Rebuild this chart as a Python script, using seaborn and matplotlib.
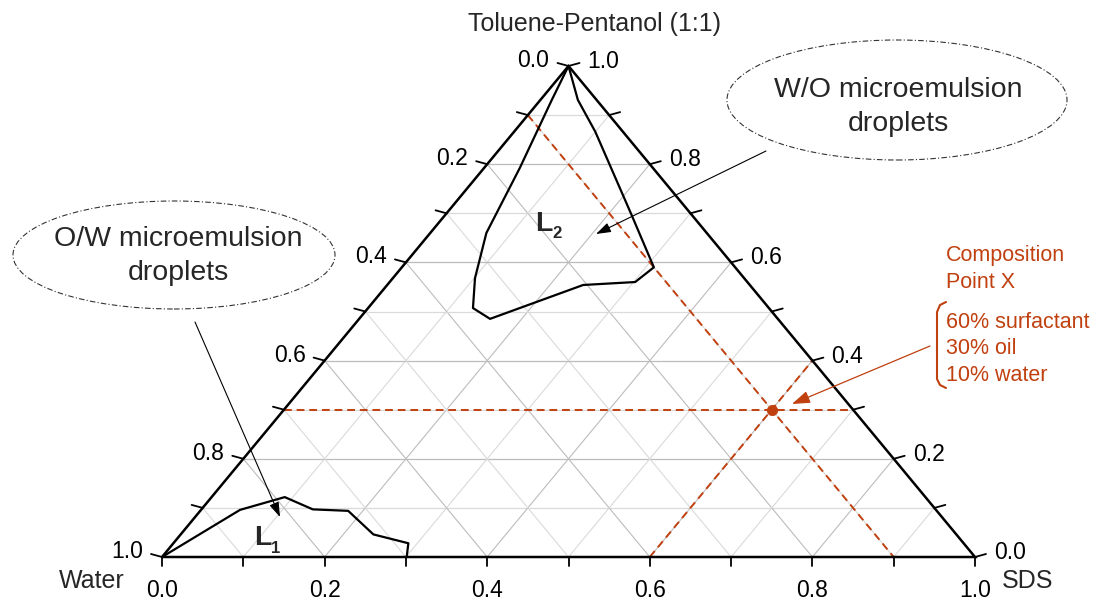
import numpy as np
import pandas as pd
import matplotlib
matplotlib.use("Agg")
import matplotlib.pyplot as plt
import seaborn as sns
from matplotlib.patches import Ellipse
from matplotlib.lines import Line2D

# ---------------- data (ternary fractions) ----------------
# L2 region boundary: SDS fraction and Toluene-Pentanol fraction
l2_sds = [0.0, 0.014, 0.044, 0.069, 0.101, 0.129, 0.161, 0.241, 0.302, 0.31, 0.229, 0.100, 0.046, 0.0]
l2_tol = [1.0, 0.931, 0.792, 0.660, 0.568, 0.507, 0.485, 0.554, 0.560, 0.59, 0.697, 0.866, 0.931, 1.0]
# L1 region boundary
l1_sds = [0.0, 0.048, 0.090, 0.137, 0.182, 0.237, 0.289, 0.301]
l1_tol = [0.0, 0.096, 0.122, 0.097, 0.094, 0.046, 0.028, 0.0]
# composition point X
x_sds, x_oil, x_water = 0.6, 0.3, 0.1
tick_fracs = [0.1, 0.2, 0.3, 0.4, 0.5, 0.6, 0.7, 0.8, 0.9]
label_fracs = [0.0, 0.2, 0.4, 0.6, 0.8, 1.0]
comp_lines = ["60% surfactant", "30% oil", "10% water"]

RED = "#C0400F"
W, H = 1099, 600
X0, Y0, XW, YH = 162, 557, 813, 491  # triangle placement in pixels

sns.set_theme(style="white")
plt.rcParams["font.family"] = ["Liberation Sans", "DejaVu Sans"]

fig = plt.figure(figsize=(W / 100, H / 100), dpi=100)
ax = fig.add_axes([X0 / W, (H - Y0) / H, XW / W, YH / H])
ax.set_xlim(0, 1)
ax.set_ylim(0, 1)
ax.axis("off")


def cart(sds, tol):
    sds = np.asarray(sds, float)
    tol = np.asarray(tol, float)
    return sds + tol / 2, tol


def fx(px):
    return px / W


def fy(py):
    return 1 - py / H


# ---------------- grid ----------------
for f in tick_fracs:
    c = "#bcbcbc" if round(f * 10) % 2 == 0 else "#dadada"
    xs, ys = cart([0, 1 - f], [f, f])          # constant toluene
    ax.plot(xs, ys, color=c, lw=0.9, zorder=1)
    xs, ys = cart([f, f], [0, 1 - f])          # constant SDS
    ax.plot(xs, ys, color=c, lw=0.8, zorder=1)
    xs, ys = cart([0, 1 - f], [1 - f, 0])      # constant water
    ax.plot(xs, ys, color=c, lw=0.8, zorder=1)

# ---------------- dashed construction lines through X ----------------
dash = dict(color=RED, lw=1.4, ls=(0, (4, 2.5)), zorder=3)
xs, ys = cart([0, 1 - x_oil], [x_oil, x_oil])
ax.plot(xs, ys, **dash)
xs, ys = cart([x_sds, x_sds], [0, 1 - x_sds])
ax.plot(xs, ys, **dash)
xs, ys = cart([0, 1 - x_water], [1 - x_water, 0])
ax.plot(xs, ys, **dash)

# ---------------- triangle outline ----------------
xs, ys = cart([0, 1, 0, 0], [0, 0, 1, 0])
ax.plot(xs, ys, color="black", lw=1.8, zorder=4, solid_joinstyle="miter", clip_on=False)

# ---------------- ticks ----------------
dxp, dyp = 1 / XW, 1 / YH
for f in [0.0] + tick_fracs + [1.0]:
    ax.plot([f, f], [0, -9 * dyp], color="black", lw=1.3, clip_on=False, zorder=4)
    ex, ey = cart(1 - f, f)
    ax.plot([ex, ex + 11 * dxp], [ey, ey + 3 * dyp], color="black", lw=1.3, clip_on=False, zorder=4)
    ex, ey = cart(0, f)
    ax.plot([ex, ex - 11 * dxp], [ey, ey + 3 * dyp], color="black", lw=1.3, clip_on=False, zorder=4)

# ---------------- region boundaries ----------------
x2, y2 = cart(l2_sds, l2_tol)
sns.lineplot(x=x2, y=y2, sort=False, estimator=None, color="black", lw=1.6, ax=ax, zorder=5)
x1, y1 = cart(l1_sds, l1_tol)
sns.lineplot(x=x1, y=y1, sort=False, estimator=None, color="black", lw=1.6, ax=ax, zorder=5)

# ---------------- point X ----------------
px_, py_ = cart([x_sds], [x_oil])
sns.scatterplot(x=px_, y=py_, color=RED, s=55, edgecolor=RED, ax=ax, zorder=6)

# ---------------- tick labels ----------------
TFS = 16.5
for f in label_fracs:
    ax.annotate(f"{f:.1f}", xy=(f, 0), xycoords="data", xytext=(0, -40), textcoords="offset pixels",
                ha="center", va="baseline", fontsize=TFS, color="black", annotation_clip=False)
    ex, ey = cart(1 - f, f)
    ax.annotate(f"{f:.1f}", xy=(ex, ey), xytext=(19, -2), textcoords="offset pixels",
                ha="left", va="baseline", fontsize=TFS, color="black", annotation_clip=False)
    ex, ey = cart(0, 1 - f)
    ax.annotate(f"{f:.1f}", xy=(ex, ey), xytext=(-19, -1), textcoords="offset pixels",
                ha="right", va="baseline", fontsize=TFS, color="black", annotation_clip=False)

# ---------------- axis titles ----------------
fig.text(fx(595), fy(31), "Toluene-Pentanol (1:1)", ha="center", va="baseline", fontsize=18)
fig.text(fx(125), fy(588), "Water", ha="right", va="baseline", fontsize=18)
fig.text(fx(1002), fy(588), "SDS", ha="left", va="baseline", fontsize=18)

# ---------------- region labels ----------------
fig.text(fx(535), fy(231), "L", ha="left", va="baseline", fontsize=20.5, fontweight="bold")
fig.text(fx(552), fy(238), "2", ha="left", va="baseline", fontsize=12, fontweight="bold")
fig.text(fx(254), fy(545), "L", ha="left", va="baseline", fontsize=20.5, fontweight="bold")
fig.text(fx(271), fy(553), "1", ha="left", va="baseline", fontsize=12, fontweight="bold")

# ---------------- callout ellipses ----------------
for cx, cy, ew, eh in [(174, 255, 322, 108), (897, 100, 340, 120)]:
    fig.patches.append(Ellipse((fx(cx), fy(cy)), ew / W, eh / H, transform=fig.transFigure,
                               fill=False, ec="#333333", lw=0.8, ls=(0, (5, 2, 1, 2))))
fig.text(fx(178), fy(246), "O/W microemulsion", ha="center", va="baseline", fontsize=20.5)
fig.text(fx(178), fy(280), "droplets", ha="center", va="baseline", fontsize=20.5)
fig.text(fx(898), fy(97), "W/O microemulsion", ha="center", va="baseline", fontsize=20.5)
fig.text(fx(898), fy(131), "droplets", ha="center", va="baseline", fontsize=20.5)


def arrow(start, tip, color, lw, hl, hw):
    ax.annotate("", xy=(tip[0], H - tip[1]), xycoords="figure pixels",
                xytext=(start[0], H - start[1]), textcoords="figure pixels",
                arrowprops=dict(arrowstyle=f"-|>,head_length={hl},head_width={hw}",
                                color=color, lw=lw, shrinkA=0, shrinkB=0, mutation_scale=10),
                annotation_clip=False, zorder=7)


arrow((195, 322), (280, 517), "black", 0.8, 0.9, 0.3)
arrow((766, 151), (596, 234), "black", 0.8, 0.9, 0.3)
arrow((930, 346), (792, 404), RED, 0.9, 1.1, 0.38)

# ---------------- composition annotation ----------------
fig.text(fx(946), fy(261), "Composition", ha="left", va="baseline", fontsize=15.5, color=RED)
fig.text(fx(946), fy(288), "Point X", ha="left", va="baseline", fontsize=15.5, color=RED)
for i, s in enumerate(comp_lines):
    fig.text(fx(946), fy(328 + 26.5 * i), s, ha="left", va="baseline", fontsize=15.5, color=RED)
bx = [946, 940, 937, 937, 940, 946]
by = [302, 305, 312, 379, 385, 388]
fig.lines.append(Line2D([fx(v) for v in bx], [fy(v) for v in by], transform=fig.transFigure,
                        color=RED, lw=1.5))

fig.savefig("out.png", dpi=100)
